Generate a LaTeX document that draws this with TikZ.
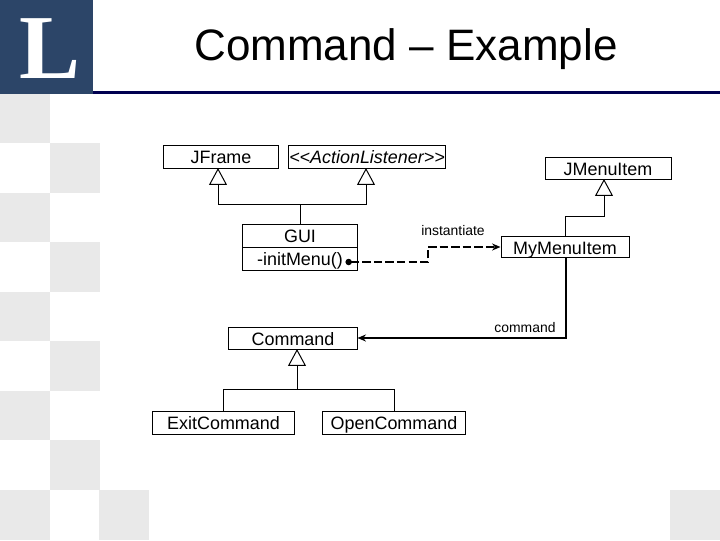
\documentclass[tikz,border=0pt]{standalone}
\usepackage{fontspec}
\setmainfont{Liberation Sans}
\newfontfamily\logofont{Liberation Serif}
\usepackage{xcolor}
\usetikzlibrary{arrows.meta}
\definecolor{logoblue}{HTML}{2C4568}
\definecolor{rulenavy}{HTML}{000050}
\definecolor{tilegray}{HTML}{E9E9E9}
\tikzset{
  classbox/.style={draw, fill=white, line width=0.7pt, inner sep=0pt, text height=10.6pt, text depth=0pt, font=\fontsize{12.75}{14}\selectfont},
  tile/.style={fill=tilegray},
  inherit/.style={line width=0.7pt, -{Triangle[open, fill=white, length=17*0.7087pt, width=18*0.7087pt]}},
  branch/.style={line width=0.7pt},
  dep/.style={line width=1.4pt, dash pattern=on 6pt off 2.2pt, {Circle[length=4.5pt]}-{Stealth[length=6pt, width=5pt]}},
  assoc/.style={line width=1.4pt, -{Stealth[length=6pt, width=5pt]}},
  smalllabel/.style={font=\fontsize{9.9}{11}\selectfont, inner sep=0pt}
}
\begin{document}
\begin{tikzpicture}[x=0.025cm, y=-0.025cm]
\useasboundingbox (0,0) rectangle (720,540);

% Background tiles
\fill[tile] (0,94) rectangle (50,143);
\fill[tile] (50,143) rectangle (100,193);
\fill[tile] (0,193) rectangle (50,242);
\fill[tile] (50,242) rectangle (100,292);
\fill[tile] (0,292) rectangle (50,341);
\fill[tile] (50,341) rectangle (100,391);
\fill[tile] (0,391) rectangle (50,440);
\fill[tile] (50,440) rectangle (100,490);
\fill[tile] (0,490) rectangle (50,540);
\fill[tile] (99,490) rectangle (149,540);
\fill[tile] (670,490) rectangle (720,540);

% Title bar
\fill[logoblue] (0,0) rectangle (93,94);
\fill[rulenavy] (93,91) rectangle (720,94);
\node[text=white, inner sep=0pt, font=\logofont\bfseries\fontsize{65}{65}\selectfont] (logo) at (50,49) {L};
\node[inner sep=0pt, font=\fontsize{31.3}{34}\selectfont] (title) at (406,49) {Command -- Example};

% Classes
\node[classbox, minimum width=2.85cm, minimum height=0.575cm] (jframe) at (221,156.5) {JFrame};
\node[classbox, minimum width=3.9cm, minimum height=0.575cm] (listener) at (367,156.5) {\textit{{<}{<}ActionListener{>}{>}}};
\node[classbox, minimum width=3.15cm, minimum height=0.55cm] (jmenuitem) at (608,168) {JMenuItem};
\node[classbox, minimum width=3.2cm, minimum height=0.525cm] (mymenuitem) at (565,247) {MyMenuItem};
\node[classbox, minimum width=2.85cm, minimum height=0.575cm] (gui) at (300,235.5) {GUI};
\node[classbox, minimum width=2.85cm, minimum height=0.575cm] (initmenu) at (300,258.5) {-initMenu()};
\node[classbox, minimum width=3.2cm, minimum height=0.55cm] (command) at (293,338) {Command};
\node[classbox, minimum width=3.525cm, minimum height=0.575cm] (exitcommand) at (223.5,422.5) {ExitCommand};
\node[classbox, minimum width=3.55cm, minimum height=0.575cm] (opencommand) at (394,422.5) {OpenCommand};

% Inheritance
\coordinate (guijoin) at (300,204);
\coordinate (jframefoot) at (218,168);
\coordinate (listenerfoot) at (366,168);
\draw[branch] (gui.north) -- (guijoin);
\draw[inherit] (guijoin) -| (jframefoot);
\draw[inherit] (guijoin) -| (listenerfoot);

\coordinate (myjoin) at (565,216);
\coordinate (jmenufoot) at (604,179);
\draw[branch] (mymenuitem.north) -- (myjoin);
\draw[inherit] (myjoin) -| (jmenufoot);

\coordinate (cmdjoin) at (297,389);
\coordinate (cmdfoot) at (297,349);
\draw[inherit] (cmdjoin) -- (cmdfoot);
\draw[branch] (exitcommand.north) |- (cmdjoin);
\draw[branch] (opencommand.north) |- (cmdjoin);

% Associations
\coordinate (initdot) at (345.5,262);
\coordinate (instbend) at (428,247);
\coordinate (cmdstart) at (566,258);
\draw[dep] (initdot) -| (instbend) -- (mymenuitem.west);
\draw[assoc] (cmdstart) |- (command.east);

\node[smalllabel] (instlabel) at (453,231) {instantiate};
\node[smalllabel] (cmdlabel) at (525,328) {command};
\end{tikzpicture}
\end{document}
